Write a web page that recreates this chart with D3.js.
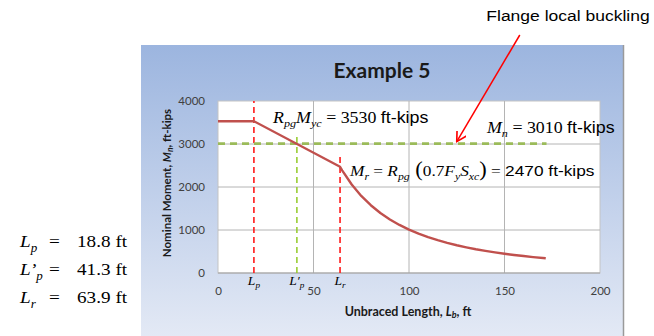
<!DOCTYPE html>
<html lang="en">
<head>
<meta charset="UTF-8">
<title>Example 5</title>
<script src="https://cdn.jsdelivr.net/npm/d3@7/dist/d3.min.js"></script>
<style>
    body { margin: 0; background: #fff; }
    svg { display: block; }
</style>
</head>
<body>
<svg id="main" width="654" height="336"></svg>
<script>
    // nominal moment vs unbraced length
    const lengths = [0, 18.8, 63.9, 65, 70, 75, 80, 85, 90, 95, 100, 105, 110, 115, 120, 125,
        130, 135, 140, 145, 150, 155, 160, 165, 171.6];
    const moments = [3530, 3530, 2470, 2387, 2058, 1793, 1576, 1396, 1245, 1118, 1008, 915, 833, 763, 700, 645,
        597, 553, 515, 480, 448, 420, 394, 370, 342];

    // limiting lengths (ft) and how high their dashed markers go
    const limitNames = ['Lp', "L'p", 'Lr'];
    const limitValues = [18.8, 41.3, 63.9];
    const limitTops = [4000, 3250, 2750];
    const limitText = ['18.8 ft', '41.3 ft', '63.9 ft'];

    // flange local buckling level
    const mnLevel = 3010;
    const mnEnd = 172;

    const xTicks = [0, 50, 100, 150, 200];
    const yTicks = [0, 1000, 2000, 3000, 4000];

    const svg = d3.select('svg#main');
    const stretch = 1.13;   // the picture is a bit wide, so text is too
    const serif = '"Liberation Serif", "Times New Roman", serif';
    const sans = '"Liberation Sans", Arial, sans-serif';
    const calib = 'Lato, "Open Sans", sans-serif';

    // blue chart panel
    const grad = svg.append('defs').append('linearGradient')
        .attr('id', 'bg').attr('x1', 0).attr('y1', 0).attr('x2', 0).attr('y2', 1);
    grad.append('stop').attr('offset', '0%').attr('stop-color', '#9cb5df');
    grad.append('stop').attr('offset', '100%').attr('stop-color', '#e3e9f5');
    svg.append('rect')
        .attr('x', 141).attr('y', 45).attr('width', 483).attr('height', 291)
        .attr('fill', 'url(#bg)');
    svg.append('line')
        .attr('x1', 623.5).attr('x2', 623.5).attr('y1', 45).attr('y2', 336)
        .attr('stroke', '#9a9a9a').attr('stroke-width', 1.5);

    const xScale = d3.scaleLinear().domain([0, 200]).range([218, 600]);
    const yScale = d3.scaleLinear().domain([0, 4000]).range([273, 101]);

    svg.append('rect')
        .attr('x', xScale(0)).attr('y', yScale(4000))
        .attr('width', xScale(200) - xScale(0))
        .attr('height', yScale(0) - yScale(4000))
        .attr('fill', '#fff')
        .attr('stroke', '#c4c4c4');

    // grid
    svg.append('g').selectAll('line')
        .data(xTicks.slice(1, -1)).enter().append('line')
        .attr('x1', d => xScale(d)).attr('x2', d => xScale(d))
        .attr('y1', yScale(0)).attr('y2', yScale(4000))
        .attr('stroke', '#b4b4b4');
    svg.append('g').selectAll('line')
        .data(yTicks.slice(1, -1)).enter().append('line')
        .attr('x1', xScale(0)).attr('x2', xScale(200))
        .attr('y1', d => yScale(d)).attr('y2', d => yScale(d))
        .attr('stroke', '#b4b4b4');
    svg.append('line')
        .attr('x1', xScale(0)).attr('x2', xScale(200))
        .attr('y1', yScale(0)).attr('y2', yScale(0))
        .attr('stroke', '#a0a0a0');

    // axes
    const xAxis = svg.append('g')
        .attr('transform', 'translate(0,' + yScale(0) + ')')
        .call(d3.axisBottom(xScale).tickValues(xTicks).tickFormat(d3.format('d'))
            .tickSize(0).tickPadding(14));
    const yAxis = svg.append('g')
        .attr('transform', 'translate(' + xScale(0) + ',0)')
        .call(d3.axisLeft(yScale).tickValues(yTicks).tickFormat(d3.format('d'))
            .tickSize(0).tickPadding(13));
    [xAxis, yAxis].forEach(a => {
        a.select('.domain').remove();
        a.selectAll('text')
            .attr('font-family', calib).attr('font-size', 11.5).attr('fill', '#404040');
    });

    // limiting-length markers
    const limits = limitValues.map((v, i) => ({name: limitNames[i], value: v, top: limitTops[i]}));
    svg.append('g').selectAll('line')
        .data(limits).enter().append('line')
        .attr('x1', d => xScale(d.value)).attr('x2', d => xScale(d.value))
        .attr('y1', yScale(0)).attr('y2', d => yScale(d.top))
        .attr('stroke', d => d.name === "L'p" ? '#99cc33' : '#ff1a1a')
        .attr('stroke-width', 1.6)
        .attr('stroke-dasharray', '6,4');

    // Mn level from flange local buckling
    svg.append('line')
        .attr('x1', xScale(0)).attr('x2', xScale(mnEnd))
        .attr('y1', yScale(mnLevel)).attr('y2', yScale(mnLevel))
        .attr('stroke', '#9bbb59').attr('stroke-width', 2.8)
        .attr('stroke-dasharray', '7,5');

    // LTB curve
    const line = d3.line()
        .x(d => xScale(d[0]))
        .y(d => yScale(d[1]));
    svg.append('path')
        .datum(lengths.map((l, i) => [l, moments[i]]))
        .attr('d', line)
        .attr('fill', 'none')
        .attr('stroke', '#c0504d')
        .attr('stroke-width', 2.4)
        .attr('stroke-linejoin', 'round');

    // small helper for math text: parts are [string, kind]
    function mathText(px, py, size, parts, anchor) {
        const g = svg.append('g')
            .attr('transform', 'translate(' + px + ',' + py + ') scale(' + stretch + ',1)');
        const t = g.append('text').attr('font-size', size).attr('fill', '#000')
            .attr('text-anchor', anchor || 'start');
        let down = 0;
        parts.forEach(p => {
            const s = t.append('tspan').text(p[0]);
            const kind = p[1];
            if (kind === 'sub') {
                s.attr('font-family', serif).attr('font-style', 'italic')
                    .attr('font-size', size * 0.68).attr('dy', size * 0.28 - down);
                down = size * 0.28;
                return;
            }
            if (down) { s.attr('dy', -down); down = 0; }
            if (kind === 'i') s.attr('font-family', serif).attr('font-style', 'italic');
            else if (kind === 'r') s.attr('font-family', serif);
            else if (kind === 'big') s.attr('font-family', serif).attr('font-size', size * 1.3);
            else s.attr('font-family', sans);
        });
        return t;
    }

    mathText(273, 123, 15.8, [['R', 'i'], ['pg', 'sub'], ['M', 'i'], ['yc', 'sub'],
        [' = 3530 ', 'r'], ['ft-kips', 's']]);
    mathText(487, 133, 15.8, [['M', 'i'], ['n', 'sub'], [' = 3010 ', 'r'], ['ft-kips', 's']]);
    mathText(350, 176, 15.3, [['M', 'i'], ['r', 'sub'], [' = ', 'r'], ['R', 'i'], ['pg', 'sub'],
        [' (', 'big'], ['0.7', 'r'], ['F', 'i'], ['y', 'sub'], ['S', 'i'], ['xc', 'sub'],
        [')', 'big'], [' = ', 'r'], ['2470 ft-kips', 's']]);

    // markers under the axis
    limits.forEach(d => {
        const base = d.name === "L'p" ? [['L\u2032', 'i'], ['p', 'sub']] : [['L', 'i'], [d.name.slice(1), 'sub']];
        mathText(xScale(d.value), 285, 12, base, 'middle');
    });

    // lengths listed on the left
    limits.forEach((d, i) => {
        const by = 247 + i * 28;
        const nm = d.name === "L'p" ? [['L\u2019', 'i'], ['p', 'sub']] : [['L', 'i'], [d.name.slice(1), 'sub']];
        mathText(20, by, 17, nm);
        mathText(49, by, 17, [['=', 'r']]);
        mathText(77, by, 17, [[limitText[i], 'r']]);
    });

    // titles
    svg.append('text')
        .attr('x', 382).attr('y', 78)
        .attr('text-anchor', 'middle')
        .attr('font-family', calib).attr('font-weight', 'bold').attr('font-size', 21)
        .attr('fill', '#1a1a1a')
        .text('Example 5');

    const xTitle = svg.append('text')
        .attr('x', 408).attr('y', 316)
        .attr('text-anchor', 'middle')
        .attr('font-family', calib).attr('font-weight', 'bold').attr('font-size', 12.5)
        .attr('fill', '#1a1a1a');
    xTitle.append('tspan').text('Unbraced Length, ');
    xTitle.append('tspan').attr('font-style', 'italic').text('L');
    xTitle.append('tspan').attr('font-style', 'italic').attr('font-size', 9).attr('dy', 2).text('b');
    xTitle.append('tspan').attr('dy', -2).text(', ft');

    const yTitle = svg.append('text')
        .attr('transform', 'translate(171,183) rotate(-90)')
        .attr('text-anchor', 'middle')
        .attr('font-family', calib).attr('font-weight', 'bold').attr('font-size', 11.5)
        .attr('fill', '#1a1a1a');
    yTitle.append('tspan').text('Nominal Moment, ');
    yTitle.append('tspan').attr('font-style', 'italic').text('M');
    yTitle.append('tspan').attr('font-style', 'italic').attr('font-size', 8.5).attr('dy', 2).text('n');
    yTitle.append('tspan').attr('dy', -2).text(', ft-kips');

    // callout
    svg.append('g')
        .attr('transform', 'translate(568,21) scale(' + stretch + ',1)')
        .append('text')
        .attr('text-anchor', 'middle')
        .attr('font-family', sans).attr('font-size', 15.5).attr('fill', '#000')
        .text('Flange local buckling');

    svg.select('defs').append('marker')
        .attr('id', 'head')
        .attr('viewBox', '0 0 10 10')
        .attr('refX', 9).attr('refY', 5)
        .attr('markerWidth', 11).attr('markerHeight', 11)
        .attr('markerUnits', 'userSpaceOnUse')
        .attr('orient', 'auto')
        .append('path')
        .attr('d', 'M0,0 L9,5 L0,10')
        .attr('fill', 'none').attr('stroke', '#ff0000').attr('stroke-width', 1.5);
    svg.append('line')
        .attr('x1', xScale(158)).attr('y1', yScale(5535))
        .attr('x2', xScale(125)).attr('y2', yScale(3055))
        .attr('stroke', '#ff0000').attr('stroke-width', 1.5)
        .attr('marker-end', 'url(#head)');
</script>
</body>
</html>
